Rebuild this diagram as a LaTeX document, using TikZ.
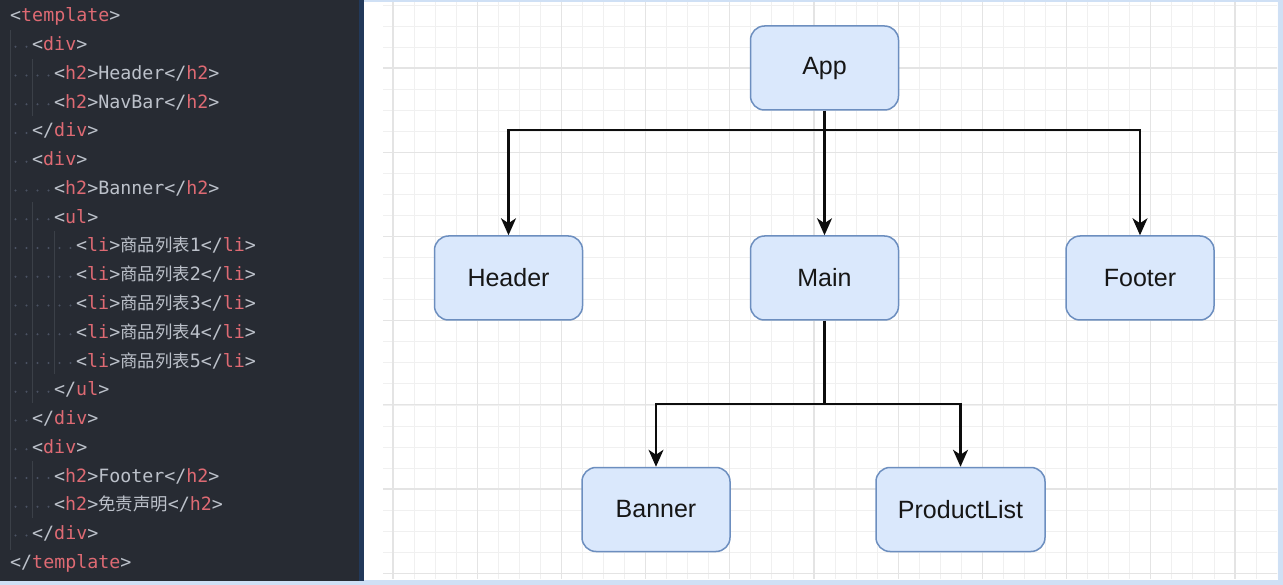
\documentclass[tikz,border=0pt]{standalone}
\usepackage{fontspec}
\usetikzlibrary{arrows.meta,positioning}

\newfontfamily\diafont{Liberation Sans}
\newfontfamily\codefont{DejaVu Sans Mono}
\newfontfamily\cjk[Scale=0.95]{Noto Sans CJK SC}

\definecolor{codebg}{HTML}{272B33}
\definecolor{codeedge}{HTML}{22395A}
\definecolor{tagred}{HTML}{DE6A73}
\definecolor{plain}{HTML}{BCC1CA}
\definecolor{wsdot}{HTML}{4B5263}
\definecolor{guide}{HTML}{3B4048}
\definecolor{frame}{HTML}{CFE0F5}
\definecolor{minorline}{HTML}{F0F0F0}
\definecolor{majorline}{HTML}{E4E4E4}
\definecolor{boxfill}{HTML}{DAE8FC}
\definecolor{boxborder}{HTML}{6C8EBF}
\definecolor{textdark}{HTML}{161616}

\newcommand{\tagc}[1]{\textcolor{tagred}{#1}}

\begin{document}
\begin{tikzpicture}[
    x=1pt, y=-1pt,
    % code panel styles
    codetext/.style={anchor=base west, inner sep=0pt, font=\codefont\fontsize{18.3}{22}\selectfont, text=plain},
    indentguide/.style={guide, line width=1pt},
    % diagram styles
    minorgrid/.style={minorline, line width=0.9pt},
    majorgrid/.style={majorline, line width=1.2pt},
    comp/.style={rectangle, rounded corners=14pt, draw=boxborder, fill=boxfill, line width=1.5pt,
                 minimum width=148pt, minimum height=84pt, text=textdark, font=\diafont\fontsize{25}{29}\selectfont},
    wire/.style={line width=2.3pt, black!95},
    arrow/.style={wire, -{Stealth[length=17pt, width=15pt, inset=5pt]}}
]
\useasboundingbox (0,0) rectangle (1283,585);

% Backgrounds
\fill[frame] (0,0) rectangle (1283,585);
\fill[codebg] (0,0) rectangle (364,581);
\fill[codeedge] (359,0) rectangle (364,581);
\fill[white] (364,2) rectangle (1278,580);

% Code panel: indent guides
\draw[indentguide] (10,30) -- (10,550);
\draw[indentguide] (32,59) -- (32,116);
\draw[indentguide] (32,202) -- (32,403);
\draw[indentguide] (32,461) -- (32,518);
\draw[indentguide] (54,231) -- (54,374);

% Code panel: whitespace dots
\foreach \ln/\lv in {1/1,2/2,3/2,4/1,5/1,6/2,7/2,8/3,9/3,10/3,11/3,12/3,13/2,14/1,15/1,16/2,17/2,18/1} {
    \pgfmathtruncatemacro\nd{2*\lv}
    \foreach \k in {1,...,\nd}
        \fill[wsdot] (10+11*\k-5.5, 18+28.75*\ln) circle (1.2pt);
}

% Code panel: text
\node[codetext] (line0) at (10, 22) {<\tagc{template}>};
\node[codetext] (line1) at (32, 22+28.75*1) {<\tagc{div}>};
\node[codetext] (line2) at (54, 22+28.75*2) {<\tagc{h2}>Header</\tagc{h2}>};
\node[codetext] (line3) at (54, 22+28.75*3) {<\tagc{h2}>NavBar</\tagc{h2}>};
\node[codetext] (line4) at (32, 22+28.75*4) {</\tagc{div}>};
\node[codetext] (line5) at (32, 22+28.75*5) {<\tagc{div}>};
\node[codetext] (line6) at (54, 22+28.75*6) {<\tagc{h2}>Banner</\tagc{h2}>};
\node[codetext] (line7) at (54, 22+28.75*7) {<\tagc{ul}>};
\foreach \n in {1,...,5}
    \node[codetext] (li\n) at (76, 22+28.75*7+28.75*\n) {<\tagc{li}>{\cjk 商品列表}\n</\tagc{li}>};
\node[codetext] (line13) at (54, 22+28.75*13) {</\tagc{ul}>};
\node[codetext] (line14) at (32, 22+28.75*14) {</\tagc{div}>};
\node[codetext] (line15) at (32, 22+28.75*15) {<\tagc{div}>};
\node[codetext] (line16) at (54, 22+28.75*16) {<\tagc{h2}>Footer</\tagc{h2}>};
\node[codetext] (line17) at (54, 22+28.75*17) {<\tagc{h2}>{\cjk 免责声明}</\tagc{h2}>};
\node[codetext] (line18) at (32, 22+28.75*18) {</\tagc{div}>};
\node[codetext] (line19) at (10, 22+28.75*19) {</\tagc{template}>};

% Diagram grid
\begin{scope}
    \clip (383,3) rectangle (1277,578);
    \foreach \k in {-1,...,43}
        \draw[minorgrid] (393+21.05*\k,0) -- (393+21.05*\k,585);
    \foreach \k in {0,...,28}
        \draw[minorgrid] (364,5+21.05*\k) -- (1283,5+21.05*\k);
    \foreach \k in {0,...,10}
        \draw[majorgrid] (393+84.2*\k,0) -- (393+84.2*\k,585);
    \foreach \k in {0,...,6}
        \draw[majorgrid] (364,68+84.2*\k) -- (1283,68+84.2*\k);
\end{scope}

% Component tree
\node[comp] (app) at (824.5,68) {App};
\node[comp] (header) at (508.5,278) {Header};
\node[comp] (main) at (824.5,278) {Main};
\node[comp] (footer) at (1140,278) {Footer};
\node[comp] (banner) at (656,509.5) {Banner};
\node[comp, minimum width=169pt] (plist) at (960.5,509.5) {ProductList};

% Connectors
\coordinate (appbus) at (824.5,130);
\coordinate (mainbus) at (824.5,404);
\draw[wire] (app) -- (appbus);
\draw[arrow] (appbus) -| (header);
\draw[arrow] (appbus) -- (main);
\draw[arrow] (appbus) -| (footer);
\draw[wire] (main) -- (mainbus);
\draw[arrow] (mainbus) -| (banner);
\draw[arrow] (mainbus) -| (plist);

\end{tikzpicture}
\end{document}
